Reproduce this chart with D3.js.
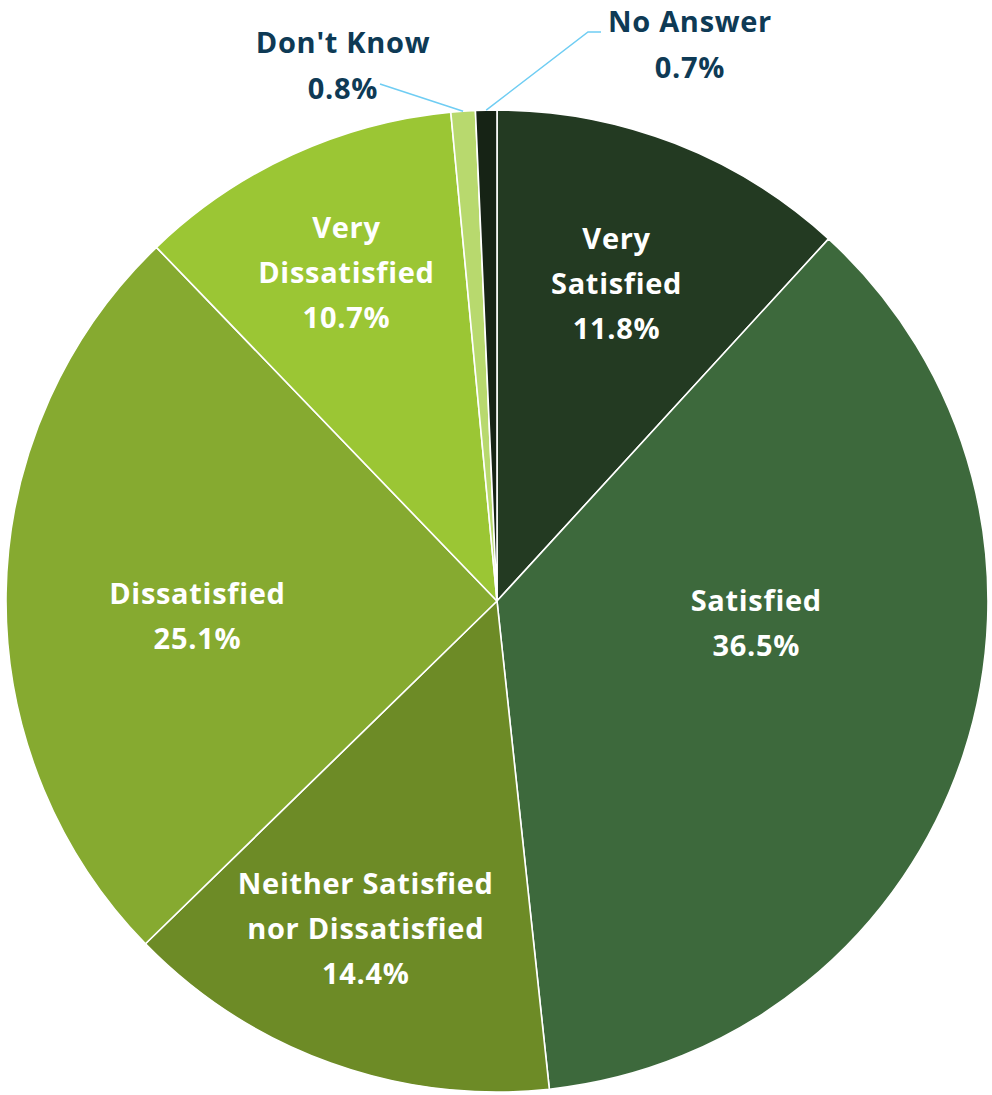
<!DOCTYPE html>
<html>
<head>
<meta charset="utf-8">
<script src="https://cdn.jsdelivr.net/npm/d3@7"></script>
<style>
  html, body { margin: 0; padding: 0; background: #ffffff; }
  svg { display: block; }
  text { font-family: "Open Sans", "Noto Sans", sans-serif; font-weight: 700; letter-spacing: 0.7px; }
</style>
</head>
<body>
<svg id="chart" width="992" height="1095"></svg>
<script>
// Satisfaction survey responses (percent of respondents)
const categories = [
  "Very Satisfied",
  "Satisfied",
  "Neither Satisfied nor Dissatisfied",
  "Dissatisfied",
  "Very Dissatisfied",
  "Don't Know",
  "No Answer"
];
const values = [11.8, 36.5, 14.4, 25.1, 10.7, 0.8, 0.7];
const labelLines = [
  ["Very", "Satisfied"],
  ["Satisfied"],
  ["Neither Satisfied", "nor Dissatisfied"],
  ["Dissatisfied"],
  ["Very", "Dissatisfied"],
  ["Don't Know"],
  ["No Answer"]
];
const colors = ["#233a22", "#3d693c", "#6d8b26", "#86aa30", "#9bc634", "#b8d96e", "#162315"];

const width = 992, height = 1095;
const cx = 497, cy = 601, R = 491;
const fontSize = 29, lineGap = 45;

const svg = d3.select("#chart");
const g = svg.append("g").attr("transform", `translate(${cx},${cy})`);

const data = categories.map((c, i) => ({ name: c, value: values[i], lines: labelLines[i], color: colors[i] }));

const pie = d3.pie().sort(null).value(d => d.value);
const arcs = pie(data);
const arc = d3.arc().innerRadius(0).outerRadius(R);

g.selectAll("path.slice")
  .data(arcs)
  .join("path")
  .attr("class", "slice")
  .attr("d", arc)
  .attr("fill", d => d.data.color)
  .attr("stroke", "#ffffff")
  .attr("stroke-width", 1.6)
  .attr("stroke-linejoin", "round");

// Inside labels: placed along each slice's mid-angle (radius fraction, angle nudge in radians)
const inside = {
  "Very Satisfied":                     { r: 0.69, da: -0.01 },
  "Satisfied":                          { r: 0.53, da: -0.23 },
  "Neither Satisfied nor Dissatisfied": { r: 0.72, da: 0.035 },
  "Dissatisfied":                       { r: 0.611, da: -0.068 },
  "Very Dissatisfied":                  { r: 0.735, da: 0 }
};

function polar(a, r) { return [Math.sin(a) * r, -Math.cos(a) * r]; }
const pct = v => d3.format(".1f")(v) + "%";

arcs.forEach(d => {
  const spec = inside[d.data.name];
  if (!spec) return;
  const lines = d.data.lines.concat([pct(d.data.value)]);
  const mid = (d.startAngle + d.endAngle) / 2 + spec.da;
  const [x, y] = polar(mid, R * spec.r);
  const t = g.append("text")
    .attr("text-anchor", "middle")
    .attr("fill", "#ffffff")
    .attr("font-size", fontSize);
  const y0 = y - (lines.length - 1) * lineGap / 2;
  lines.forEach((ln, k) => {
    t.append("tspan").attr("x", x).attr("y", y0 + k * lineGap).attr("dy", "0.35em").text(ln);
  });
});

// Outside labels with leader lines for the two thin slices
const outside = {
  "Don't Know": { lx: -154, ly: -558, lead: [[-117, -517]] },
  "No Answer":  { lx: 193,  ly: -579, lead: [[91, -569], [104, -569]] }
};

arcs.forEach(d => {
  const spec = outside[d.data.name];
  if (!spec) return;
  const mid = (d.startAngle + d.endAngle) / 2;
  const pts = [polar(mid, R)].concat(spec.lead);
  g.append("path")
    .attr("d", d3.line()(pts))
    .attr("fill", "none")
    .attr("stroke", "#6fcdf3")
    .attr("stroke-width", 1.5);
  const lines = d.data.lines.concat([pct(d.data.value)]);
  const t = g.append("text")
    .attr("text-anchor", "middle")
    .attr("fill", "#0e3a55")
    .attr("font-size", fontSize);
  lines.forEach((ln, k) => {
    t.append("tspan").attr("x", spec.lx).attr("y", spec.ly + k * (lineGap + 1)).attr("dy", "0.35em").text(ln);
  });
});
</script>
</body>
</html>
